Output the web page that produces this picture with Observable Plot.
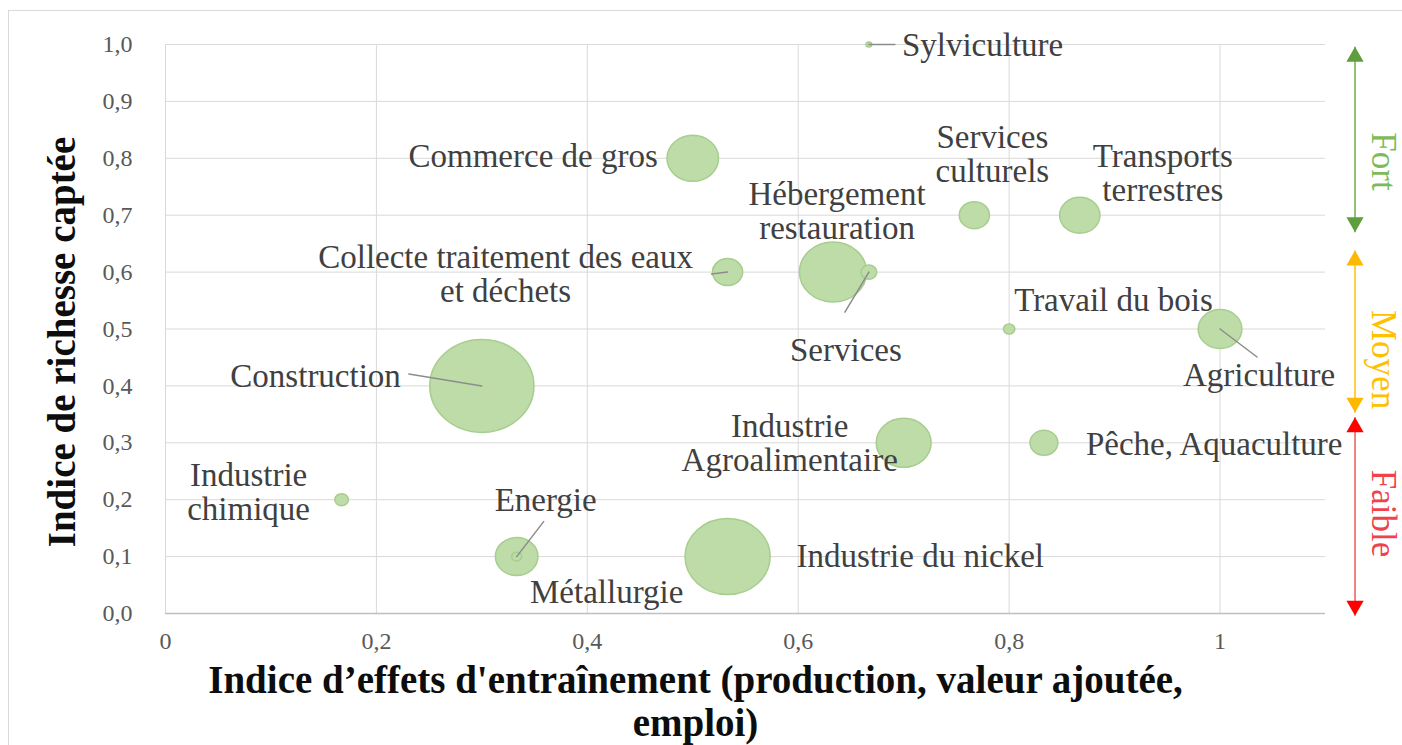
<!DOCTYPE html>
<html>
<head>
<meta charset="utf-8">
<script src="https://cdn.jsdelivr.net/npm/d3@7"></script>
<script src="https://cdn.jsdelivr.net/npm/@observablehq/plot@0.6"></script>
<style>
  html, body { margin: 0; padding: 0; background: #ffffff; }
  #wrap { position: relative; width: 1402px; height: 745px; overflow: hidden; }
  #border { position: absolute; left: 8px; top: 10px; width: 1400px; height: 760px; border: 1px solid #d9d9d9; box-sizing: border-box; pointer-events: none; }
</style>
</head>
<body>
<div id="wrap"><div id="border"></div></div>
<script>
// ---- Data ----
const sectors = ["Sylviculture", "Commerce de gros", "Services culturels", "Transports terrestres",
  "Hébergement restauration", "Services", "Collecte traitement des eaux et déchets", "Travail du bois",
  "Agriculture", "Construction", "Industrie Agroalimentaire", "Pêche, Aquaculture",
  "Industrie chimique", "Energie", "Métallurgie", "Industrie du nickel"];
const labelTexts = ["Sylviculture", "Commerce de gros", "Services\nculturels", "Transports\nterrestres",
  "Hébergement\nrestauration", "Services", "Collecte traitement des eaux\net déchets", "Travail du bois",
  "Agriculture", "Construction", "Industrie\nAgroalimentaire", "Pêche, Aquaculture",
  "Industrie\nchimique", "Energie", "Métallurgie", "Industrie du nickel"];
const effets   = [0.667, 0.5, 0.767, 0.867, 0.633, 0.667, 0.533, 0.8, 1.0, 0.3, 0.7, 0.833, 0.167, 0.333, 0.333, 0.533];
const richesse = [1.0, 0.8, 0.7, 0.7, 0.6, 0.6, 0.6, 0.5, 0.5, 0.4, 0.3, 0.3, 0.2, 0.1, 0.1, 0.1];
const poids    = [0.3, 24.5, 8.4, 15, 41.6, 2.3, 8.4, 1.2, 17.6, 100, 27.8, 7.2, 1.7, 16.7, 0.9, 66.8];

const xTicks = [0, 0.2, 0.4, 0.6, 0.8, 1];
const yTicks = [0, 0.1, 0.2, 0.3, 0.4, 0.5, 0.6, 0.7, 0.8, 0.9, 1.0];

const bandNames = ["Fort", "Moyen", "Faible"];
const bandFrom  = [0.996, 0.638, 0.345];
const bandTo    = [0.67, 0.353, -0.004];

const xTitle = "Indice d\u2019effets d'entraînement (production, valeur ajoutée,\nemploi)";
const yTitle = "Indice de richesse captée";

// ---- Layout / style (not data) ----
const labelPlacement = {
  "Sylviculture": [33, 1, "start"],
  "Commerce de gros": [-35, -2, "end"],
  "Services culturels": [18, -61, "middle"],
  "Transports terrestres": [83, -42, "middle"],
  "Hébergement restauration": [4, -61, "middle"],
  "Services": [-23, 78, "middle"],
  "Collecte traitement des eaux et déchets": [-222, 2, "middle"],
  "Travail du bois": [5, -29, "start"],
  "Agriculture": [39, 46, "middle"],
  "Construction": [-81, -10, "end"],
  "Industrie Agroalimentaire": [-114, 0, "middle"],
  "Pêche, Aquaculture": [42, 1, "start"],
  "Industrie chimique": [-93, -8, "middle"],
  "Energie": [29, -56, "middle"],
  "Métallurgie": [90, 36, "middle"],
  "Industrie du nickel": [69, 0, "start"]
};
const leaderOffsets = {
  "Sylviculture": [26, 0],
  "Construction": [-73, -12],
  "Energie": [27, -35],
  "Services": [-24, 40],
  "Agriculture": [37, 28],
  "Collecte traitement des eaux et déchets": [-16, 2]
};
const bandStyle = {
  "Fort":   {line: "#70ad47", head: "#5e9e3c", text: "#7cbb5a", textDy: 22},
  "Moyen":  {line: "#ffc000", head: "#ffb800", text: "#ffc000", textDy: 28},
  "Faible": {line: "#ee5a5a", head: "#ff0000", text: "#f0424a", textDy: -3}
};
const arrowX = 1.128, bandTextX = 1.155;
const FONT = "'Liberation Serif', 'Times New Roman', serif";

const data = sectors.map((s, i) => ({sector: s, label: labelTexts[i], x: effets[i], y: richesse[i], w: poids[i]}));

// ellipse symbol (bubbles are slightly wider than tall in the original)
const ellipse = {
  draw(ctx, size) {
    const r = Math.sqrt(size / Math.PI);
    const ry = r, rx = r * 1.12, k = 0.5523;
    ctx.moveTo(rx, 0);
    ctx.bezierCurveTo(rx, k * ry, k * rx, ry, 0, ry);
    ctx.bezierCurveTo(-k * rx, ry, -rx, k * ry, -rx, 0);
    ctx.bezierCurveTo(-rx, -k * ry, -k * rx, -ry, 0, -ry);
    ctx.bezierCurveTo(k * rx, -ry, rx, -k * ry, rx, 0);
    ctx.closePath();
  }
};
const lineShape = {draw(ctx, l) { ctx.moveTo(0, 0); ctx.lineTo(0, -l); }};

const leaders = data.filter(d => leaderOffsets[d.sector]).map(d => {
  const [dx, dy] = leaderOffsets[d.sector];
  return {...d, length: Math.hypot(dx, dy), angle: Math.atan2(dx, -dy) * 180 / Math.PI};
});

const labelMarks = data.map(d => {
  const [dx, dy, anchor] = labelPlacement[d.sector];
  return Plot.text([d], {x: "x", y: "y", text: "label", dx, dy, textAnchor: anchor,
    lineAnchor: "middle", lineHeight: 1.03, fontSize: 33, fill: "#404040"});
});

const bands = bandNames.map((n, i) => ({name: n, from: bandFrom[i], to: bandTo[i], mid: (bandFrom[i] + bandTo[i]) / 2}));
const bandMarks = bands.flatMap(b => {
  const st = bandStyle[b.name];
  return [
    Plot.link([b], {x1: () => arrowX, x2: () => arrowX, y1: "from", y2: "to", stroke: st.line, strokeWidth: 1.5}),
    Plot.dot([b], {x: () => arrowX, y: "from", symbol: "triangle", r: 6.4, fill: st.head, stroke: "none", dy: 10}),
    Plot.dot([b], {x: () => arrowX, y: "to", symbol: "triangle", r: 6.4, fill: st.head, stroke: "none", dy: -10, rotate: 180}),
    Plot.text([b], {x: () => bandTextX, y: "mid", text: "name", rotate: 90, fontSize: 35, fill: st.text, dy: st.textDy})
  ];
});

const chart = Plot.plot({
  width: 1402,
  height: 745,
  marginLeft: 165,
  marginRight: 77,
  marginTop: 44,
  marginBottom: 132,
  style: {fontFamily: FONT, background: "transparent", overflow: "visible"},
  x: {domain: [0, 1.1]},
  y: {domain: [0, 1]},
  r: {type: "sqrt", domain: [0, 100], range: [0, 46.5]},
  length: {type: "identity"},
  marks: [
    Plot.gridX(xTicks, {stroke: "#d9d9d9", strokeOpacity: 1, strokeWidth: 1}),
    Plot.gridY(yTicks, {stroke: "#d9d9d9", strokeOpacity: 1, strokeWidth: 1}),
    Plot.ruleY([0], {stroke: "#bfbfbf", strokeWidth: 1.5}),
    Plot.axisY(yTicks, {tickSize: 0, tickPadding: 33, fontSize: 24, fill: "#595959", label: null,
      tickFormat: d => d.toFixed(1).replace(".", ",")}),
    Plot.axisX(xTicks, {tickSize: 0, tickPadding: 18, fontSize: 24, fill: "#595959", label: null,
      tickFormat: d => d === 0 ? "0" : d === 1 ? "1" : d.toFixed(1).replace(".", ",")}),
    Plot.dot(data, {x: "x", y: "y", r: "w", symbol: ellipse, fill: "#bddca8", stroke: "#a7cd8f", strokeWidth: 1.5}),
    Plot.vector(leaders, {x: "x", y: "y", length: "length", rotate: "angle", anchor: "start", shape: lineShape,
      stroke: "#8c8c8c", strokeWidth: 1.5}),
    ...labelMarks,
    ...bandMarks,
    Plot.text([yTitle], {frameAnchor: "left", text: d => d, rotate: -90, dx: -103, dy: 13, textAnchor: "middle",
      lineAnchor: "middle", fontSize: 39, fontWeight: "bold", fill: "#0d0d0d"}),
    Plot.text([xTitle], {frameAnchor: "bottom", text: d => d, dx: -50, dy: 87, textAnchor: "middle", lineAnchor: "middle",
      lineHeight: 1.1, fontSize: 39, fontWeight: "bold", fill: "#0d0d0d"})
  ]
});
chart.style.position = "absolute";
chart.style.left = "0px";
chart.style.top = "0px";
document.getElementById("wrap").prepend(chart);
</script>
</body>
</html>
